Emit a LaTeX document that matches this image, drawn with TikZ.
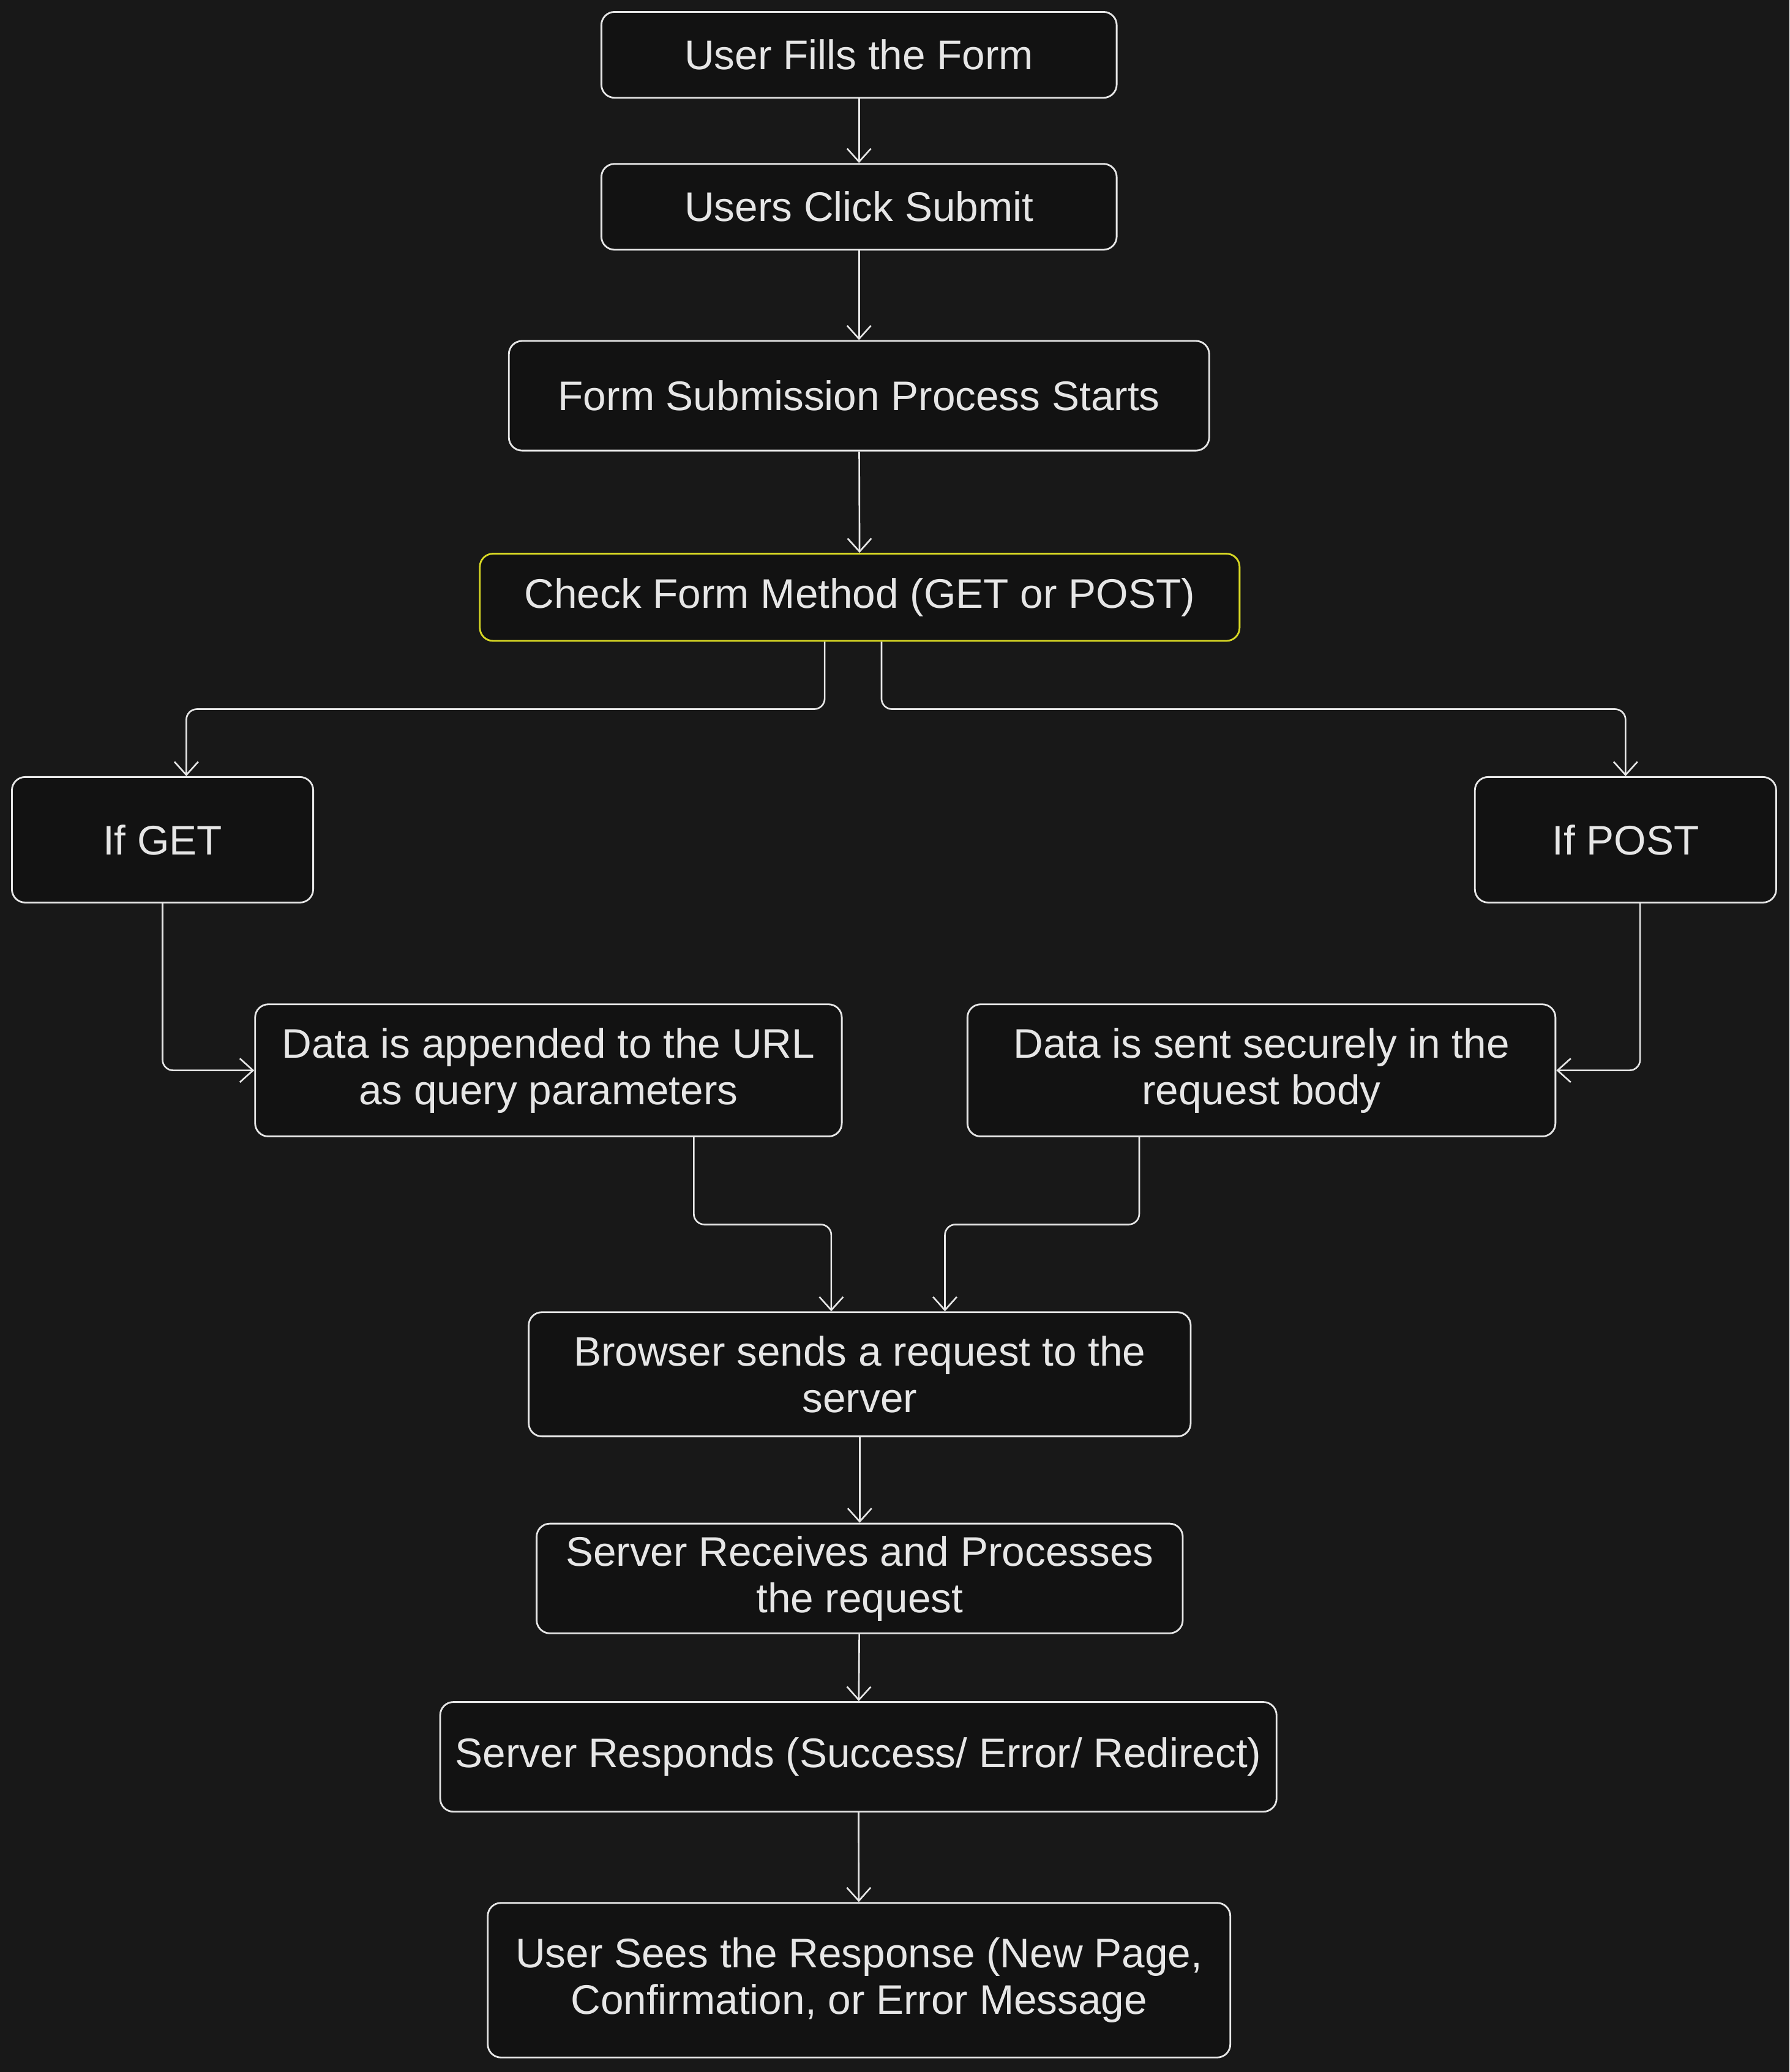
\documentclass[tikz,border=0pt]{standalone}
\usepackage{fontspec}
\setmainfont{Liberation Sans}
\usetikzlibrary{arrows.meta}

\definecolor{bgdark}{HTML}{181818}
\definecolor{boxdark}{HTML}{121212}
\definecolor{inkgray}{HTML}{E6E6E6}
\definecolor{checkyellow}{HTML}{D8D824}

\begin{document}
\begin{tikzpicture}[x=0.02cm, y=-0.02cm,
    box/.style={draw=inkgray, fill=boxdark, text=inkgray, rounded corners=0.2cm,
      line width=0.75pt, align=center, inner sep=0pt,
      font=\fontsize{17.8}{20}\selectfont},
    arr/.style={draw=inkgray, line width=0.7pt, rounded corners=0.16cm,
      -{Straight Barb[length=0.2cm, width=0.36cm, line width=0.7pt]}}]

    % Background and frame
    \fill[bgdark] (0,0) rectangle (1354,1568);

    % Top of the flow
    \node[box, minimum width=7.8cm, minimum height=1.3cm] (fillform) at (650,41.5) {User Fills the Form};
    \node[box, minimum width=7.8cm, minimum height=1.3cm] (clicksubmit) at (650,156.5) {Users Click Submit};
    \node[box, minimum width=10.6cm, minimum height=1.66cm] (startproc) at (650,299.5) {Form Submission Process Starts};
    \node[box, draw=checkyellow, minimum width=11.5cm, minimum height=1.32cm] (checkmethod) at (650.5,452) {Check Form Method (GET or POST)};

    % The two methods
    \node[box, minimum width=4.56cm, minimum height=1.9cm] (ifget) at (123,635.5) {If GET};
    \node[box, minimum width=4.56cm, minimum height=1.9cm] (ifpost) at (1230,635.5) {If POST};

    \node[box, minimum width=8.88cm, minimum height=2cm] (dataurl) at (415,810) {Data is appended to the URL\\as query parameters};
    \node[box, minimum width=8.9cm, minimum height=2cm] (databody) at (954.5,810) {Data is sent securely in the\\request body};

    % Server side
    \node[box, minimum width=10.02cm, minimum height=1.88cm] (browserreq) at (650.5,1040) {Browser sends a request to the\\server};
    \node[box, minimum width=9.78cm, minimum height=1.66cm] (serverproc) at (650.5,1194.5) {Server Receives and Processes\\the request};
    \node[box, minimum width=12.66cm, minimum height=1.66cm] (serverresp) at (649.5,1329.5) {Server Responds (Success/ Error/ Redirect)};
    \node[box, minimum width=11.24cm, minimum height=2.34cm] (userseen) at (650,1498.5) {User Sees the Response (New Page,\\Confirmation, or Error Message};

    % Connectors
    \draw[arr] (fillform) -- (clicksubmit);
    \draw[arr] (clicksubmit) -- (startproc);
    \draw[arr] (startproc) -- (checkmethod);

    \draw[arr] ([xshift=-0.53cm]checkmethod.south) -- ++(0cm,-1.02cm) -| ([xshift=0.36cm]ifget.north);
    \draw[arr] ([xshift=0.33cm]checkmethod.south) -- ++(0cm,-1.02cm) -| (ifpost.north);

    \draw[arr] (ifget.south) |- (dataurl.west);
    \draw[arr] ([xshift=0.22cm]ifpost.south) |- (databody.east);

    \draw[arr] ([xshift=2.2cm]dataurl.south) -- ++(0cm,-1.32cm) -| ([xshift=-0.43cm]browserreq.north);
    \draw[arr] ([xshift=-1.85cm]databody.south) -- ++(0cm,-1.32cm) -| ([xshift=1.29cm]browserreq.north);

    \draw[arr] (browserreq) -- (serverproc);
    \draw[arr] (serverproc) -- (serverresp);
    \draw[arr] (serverresp) -- (userseen);
  \end{tikzpicture}
\end{document}
